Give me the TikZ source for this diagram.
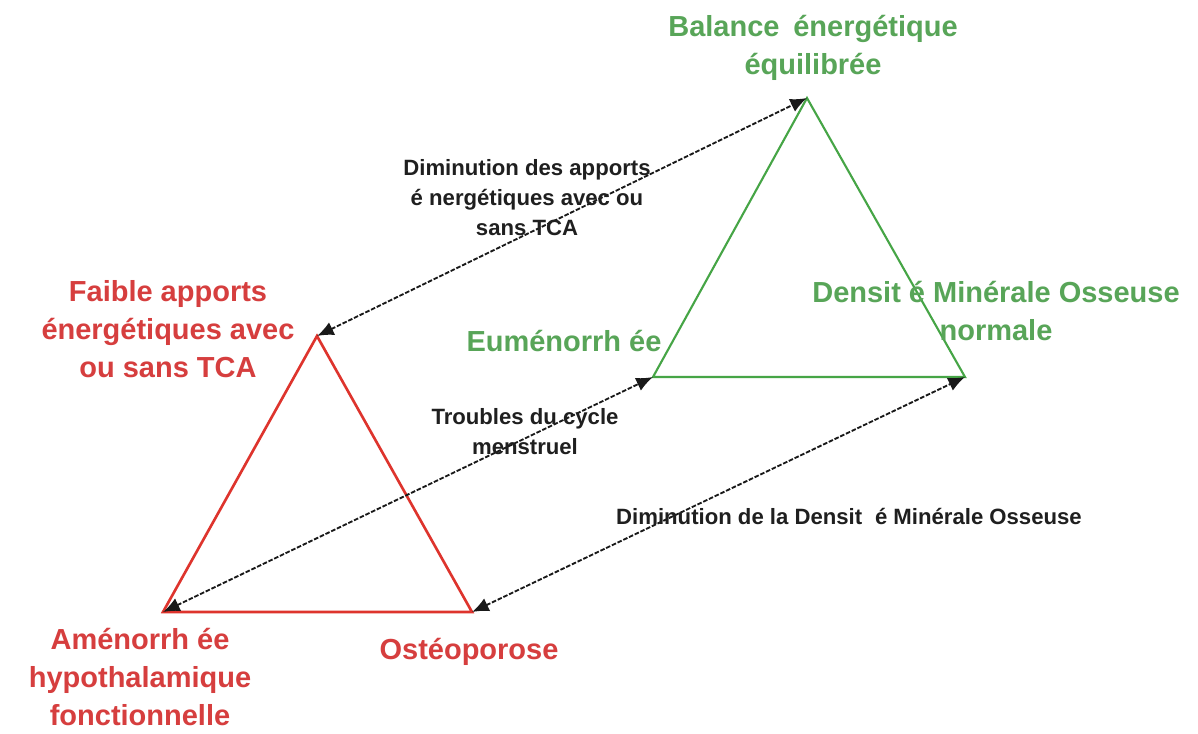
\documentclass[tikz,border=0pt]{standalone}
\usepackage{fontspec}
\setmainfont{Liberation Sans}
\usetikzlibrary{arrows.meta}
\definecolor{redline}{RGB}{222,52,45}
\definecolor{redtext}{RGB}{214,62,62}
\definecolor{greenline}{RGB}{70,165,70}
\definecolor{greentext}{RGB}{88,165,88}
\begin{document}
\begin{tikzpicture}[x=0.02cm,y=-0.02cm,
  redtri/.style={draw=redline,line width=1.5pt,line join=miter},
  greentri/.style={draw=greenline,line width=1.2pt,line join=miter},
  link/.style={draw=black!90,line width=1.05pt,dash pattern=on 2.6pt off 1pt,
    {Latex[length=9.5pt,width=8pt]}-{Latex[length=9.5pt,width=8pt]}},
  big/.style={font=\fontsize{16.5}{21.6}\selectfont\bfseries,align=center,inner sep=0pt,anchor=north},
  small/.style={font=\fontsize{12.6}{17}\selectfont\bfseries,align=center,inner sep=0pt,anchor=north,text=black!88},
]
\useasboundingbox (0,0) rectangle (1198,734);
\fill[white] (0,0) rectangle (1198,734);

% vertices
\coordinate (G1) at (807,98);
\coordinate (G2) at (653,377);
\coordinate (G3) at (965,377);
\coordinate (R1) at (317,336);
\coordinate (R2) at (163,612);
\coordinate (R3) at (472,612);

% triangles
\draw[greentri] (G1) -- (G2) -- (G3) -- cycle;
\draw[redtri] (R1) -- (R2) -- (R3) -- cycle;

% links
\draw[link] (R1) -- (G1);
\draw[link] (R2) -- (G2);
\draw[link] (R3) -- (G3);

% green labels
\node[big,text=greentext] (balance) at (813,15) {Balance\hspace{0.2em} énergétique\\équilibrée};
\node[big,text=greentext] (eumen) at (564,330) {Euménorrh ée};
\node[big,text=greentext] (dmo) at (996,281) {Densit é Minérale Osseuse\\normale};

% red labels
\node[big,text=redtext] (faible) at (168,280) {Faible apports\\énergétiques avec\\ou sans TCA};
\node[big,text=redtext] (amen) at (140,628) {Aménorrh ée\\hypothalamique\\fonctionnelle};
\node[big,text=redtext] (osteo) at (469,638) {Ostéoporose};

% black labels
\node[small] (dimapp) at (527,159) {Diminution des apports\\é nergétiques avec ou\\sans TCA};
\node[small] (troubles) at (525,408) {Troubles du cycle\\menstruel};
\node[small] (dimdmo) at (849,508) {Diminution de la Densit\hspace{0.3em} é Minérale Osseuse};
\end{tikzpicture}
\end{document}
